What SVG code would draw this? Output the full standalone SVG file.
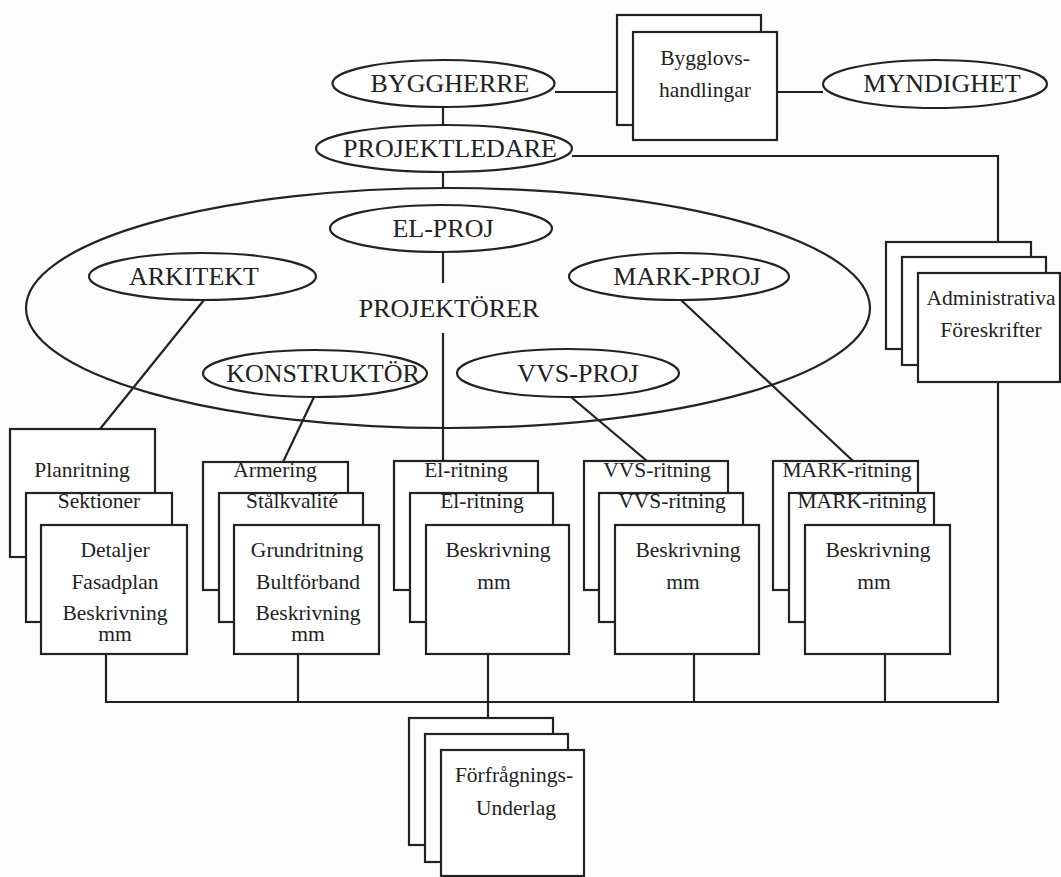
<svg xmlns="http://www.w3.org/2000/svg" width="1061" height="877" viewBox="0 0 1061 877">
<style>
.bg{fill:#fdfdfd}
.s{fill:#fff;stroke:#222;stroke-width:2.2}
.o{fill:none;stroke:#222;stroke-width:2.2}
.c{fill:none;stroke:#222;stroke-width:2.2}
.L{font-family:"Liberation Serif",serif;font-size:26px;fill:#222;text-anchor:middle}
.t{font-family:"Liberation Serif",serif;font-size:21.5px;fill:#222;text-anchor:middle}
</style>
<rect class="bg" x="0" y="0" width="1061" height="877"/>
<g id="projektorer">
<ellipse class="o" cx="448" cy="308" rx="422" ry="120"/>
<text class="L" x="449" y="317">PROJEKTÖRER</text>
</g>
<g id="connectors">
<line class="c" x1="443" y1="107" x2="443" y2="125"/>
<line class="c" x1="443" y1="172" x2="443" y2="189"/>
<line class="c" x1="555" y1="92" x2="617" y2="92"/>
<line class="c" x1="777" y1="92" x2="823" y2="92"/>
<polyline class="c" points="572,156 998,156 998,242"/>
<line class="c" x1="443" y1="252" x2="443" y2="283"/>
<line class="c" x1="443" y1="333" x2="443" y2="461"/>
<line class="c" x1="204" y1="300" x2="100" y2="429"/>
<line class="c" x1="314" y1="397" x2="283" y2="462"/>
<line class="c" x1="571" y1="397" x2="647" y2="461"/>
<line class="c" x1="681" y1="300" x2="853" y2="461"/>
<polyline class="c" points="106,654 106,702 998,702 998,382"/>
<line class="c" x1="298" y1="654" x2="298" y2="702"/>
<line class="c" x1="488" y1="654" x2="488" y2="718"/>
<line class="c" x1="694" y1="654" x2="694" y2="702"/>
<line class="c" x1="885" y1="654" x2="885" y2="702"/>
</g>
<g id="byggherre">
<ellipse class="s" cx="443.5" cy="83.5" rx="111" ry="23.5"/>
<text class="L" x="450" y="92">BYGGHERRE</text>
</g>
<g id="bygglov">
<rect class="s" x="617" y="15" width="144" height="110"/>
<rect class="s" x="633" y="32" width="144" height="108"/>
<text class="t" x="705" y="65">Bygglovs-</text>
<text class="t" x="705" y="97">handlingar</text>
</g>
<g id="myndighet">
<ellipse class="s" cx="935" cy="84" rx="112" ry="24"/>
<text class="L" x="942" y="92">MYNDIGHET</text>
</g>
<g id="projektledare">
<ellipse class="s" cx="444" cy="148.5" rx="128" ry="23.5"/>
<text class="L" x="450" y="157">PROJEKTLEDARE</text>
</g>
<g id="elproj">
<ellipse class="s" cx="441" cy="228.5" rx="111" ry="23.5"/>
<text class="L" x="443" y="237">EL-PROJ</text>
</g>
<g id="arkitekt">
<ellipse class="s" cx="202.5" cy="276.5" rx="113.5" ry="23.5"/>
<text class="L" x="194" y="285">ARKITEKT</text>
</g>
<g id="markproj">
<ellipse class="s" cx="679" cy="276.5" rx="110" ry="23.5"/>
<text class="L" x="687" y="285">MARK-PROJ</text>
</g>
<g id="konstruktor">
<ellipse class="s" cx="315" cy="373.5" rx="112" ry="23.5"/>
<text class="L" x="323" y="382">KONSTRUKTÖR</text>
</g>
<g id="vvsproj">
<ellipse class="s" cx="568" cy="373" rx="111" ry="24"/>
<text class="L" x="578" y="382">VVS-PROJ</text>
</g>
<g id="admin">
<rect class="s" x="886" y="242" width="145" height="107"/>
<rect class="s" x="902" y="257" width="144" height="108"/>
<rect class="s" x="918" y="273" width="142" height="109"/>
<text class="t" x="991" y="305">Administrativa</text>
<text class="t" x="991" y="337">Föreskrifter</text>
</g>
<g id="ark-docs">
<rect class="s" x="10" y="429" width="145" height="128"/>
<rect class="s" x="26" y="493" width="146" height="129"/>
<rect class="s" x="41" y="525" width="146" height="129"/>
<text class="t" x="82" y="477">Planritning</text>
<text class="t" x="99" y="508">Sektioner</text>
<text class="t" x="115" y="557">Detaljer</text>
<text class="t" x="115" y="589">Fasadplan</text>
<text class="t" x="115" y="620">Beskrivning</text>
<text class="t" x="115" y="641">mm</text>
</g>
<g id="konst-docs">
<rect class="s" x="203" y="462" width="145" height="128"/>
<rect class="s" x="219" y="493" width="144" height="129"/>
<rect class="s" x="234" y="525" width="145" height="129"/>
<text class="t" x="275" y="477">Armering</text>
<text class="t" x="292" y="508">Stålkvalité</text>
<text class="t" x="307" y="557">Grundritning</text>
<text class="t" x="308" y="589">Bultförband</text>
<text class="t" x="308" y="620">Beskrivning</text>
<text class="t" x="308" y="641">mm</text>
</g>
<g id="el-docs">
<rect class="s" x="394" y="461" width="144" height="129"/>
<rect class="s" x="410" y="493" width="143" height="129"/>
<rect class="s" x="426" y="525" width="143" height="129"/>
<text class="t" x="466" y="477">El-ritning</text>
<text class="t" x="482" y="508">El-ritning</text>
<text class="t" x="498" y="557">Beskrivning</text>
<text class="t" x="494" y="589">mm</text>
</g>
<g id="vvs-docs">
<rect class="s" x="584" y="461" width="144" height="129"/>
<rect class="s" x="599" y="493" width="144" height="129"/>
<rect class="s" x="615" y="525" width="144" height="129"/>
<text class="t" x="657" y="477">VVS-ritning</text>
<text class="t" x="672" y="508">VVS-ritning</text>
<text class="t" x="688" y="557">Beskrivning</text>
<text class="t" x="683" y="589">mm</text>
</g>
<g id="mark-docs">
<rect class="s" x="773" y="461" width="145" height="129"/>
<rect class="s" x="789" y="493" width="145" height="129"/>
<rect class="s" x="805" y="525" width="145" height="129"/>
<text class="t" x="847" y="477">MARK-ritning</text>
<text class="t" x="862" y="508">MARK-ritning</text>
<text class="t" x="878" y="557">Beskrivning</text>
<text class="t" x="874" y="589">mm</text>
</g>
<g id="forfragning">
<rect class="s" x="409" y="718" width="144" height="127"/>
<rect class="s" x="425" y="734" width="143" height="128"/>
<rect class="s" x="441" y="750" width="143" height="126"/>
<text class="t" x="514" y="782">Förfrågnings-</text>
<text class="t" x="516" y="815">Underlag</text>
</g>
</svg>
